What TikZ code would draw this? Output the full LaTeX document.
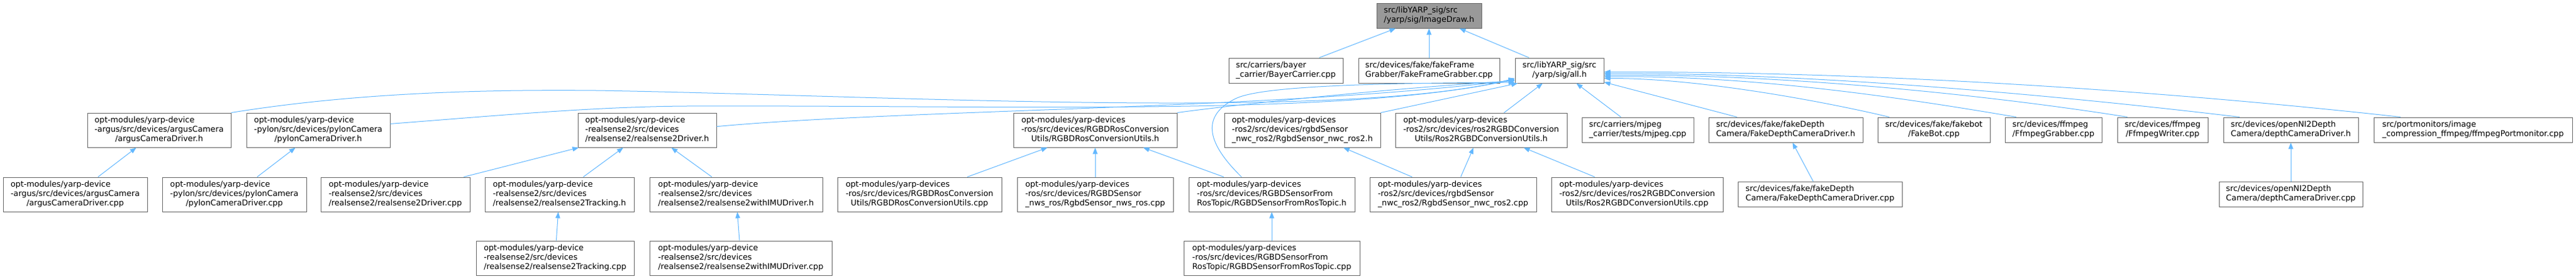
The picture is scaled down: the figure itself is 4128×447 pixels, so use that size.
\documentclass[tikz,border=0pt]{standalone}
\usepackage{fontspec}
\setmainfont{DejaVu Sans}
\usetikzlibrary{arrows.meta}
\definecolor{edgecol}{HTML}{63B8FF}
\definecolor{bordercol}{HTML}{666666}
\definecolor{rootcol}{HTML}{999999}
\newcommand\lbl[2]{\begin{tabular}{@{}l@{}}#1\\\multicolumn{1}{@{}c@{}}{#2}\end{tabular}}
\renewcommand\arraystretch{1}
\begin{document}
\begin{tikzpicture}[x=1pt,y=-1pt,
  box/.style={draw=bordercol, line width=1pt, fill=white, inner sep=0pt,
    font=\fontsize{12.8}{15}\selectfont},
  rootbox/.style={box, fill=rootcol},
  hthree/.style={minimum height=55pt},
  htwo/.style={minimum height=40pt},
  edge/.style={draw=edgecol, line width=1pt, -{Triangle[length=10pt,width=7.5pt]}}]
\fill[white] (0,0) rectangle (4128,447);
\useasboundingbox (0,0) rectangle (4128,447);
% top
\node[rootbox, htwo, minimum width=168pt] (T) at (2290,25) {\lbl{src/libYARP\_sig/src}{/yarp/sig/ImageDraw.h}};
% row 2
\node[box, htwo, minimum width=183pt] (B) at (2060.5,113) {\lbl{src/carriers/bayer}{\_carrier/BayerCarrier.cpp}};
\node[box, htwo, minimum width=226pt] (F) at (2290,113) {\lbl{src/devices/fake/fakeFrame}{Grabber/FakeFrameGrabber.cpp}};
\node[box, htwo, minimum width=142pt] (A) at (2499,113) {\lbl{src/libYARP\_sig/src}{/yarp/sig/all.h}};
% row 3
\node[box, hthree, minimum width=230pt] (argush) at (255,208.5) {\lbl{opt-modules/yarp-device\\-argus/src/devices/argusCamera}{/argusCameraDriver.h}};
\node[box, hthree, minimum width=230pt] (pylonh) at (510,208.5) {\lbl{opt-modules/yarp-device\\-pylon/src/devices/pylonCamera}{/pylonCameraDriver.h}};
\node[box, hthree, minimum width=222pt] (rs2h) at (1037,208.5) {\lbl{opt-modules/yarp-device\\-realsense2/src/devices}{/realsense2/realsense2Driver.h}};
\node[box, hthree, minimum width=262pt] (rgbdconvh) at (1755,208.5) {\lbl{opt-modules/yarp-devices\\-ros/src/devices/RGBDRosConversion}{Utils/RGBDRosConversionUtils.h}};
\node[box, hthree, minimum width=250pt] (nwch) at (2087,208.5) {\lbl{opt-modules/yarp-devices\\-ros2/src/devices/rgbdSensor}{\_nwc\_ros2/RgbdSensor\_nwc\_ros2.h}};
\node[box, hthree, minimum width=275pt] (ros2convh) at (2373.5,208.5) {\lbl{opt-modules/yarp-devices\\-ros2/src/devices/ros2RGBDConversion}{Utils/Ros2RGBDConversionUtils.h}};
\node[box, htwo, minimum width=179pt] (mjpeg) at (2624.5,208) {\lbl{src/carriers/mjpeg}{\_carrier/tests/mjpeg.cpp}};
\node[box, htwo, minimum width=247pt] (fakedepthh) at (2861.5,208) {\lbl{src/devices/fake/fakeDepth}{Camera/FakeDepthCameraDriver.h}};
\node[box, htwo, minimum width=180pt] (fakebot) at (3099,208) {\lbl{src/devices/fake/fakebot}{/FakeBot.cpp}};
\node[box, htwo, minimum width=155pt] (ffgrab) at (3290.5,208) {\lbl{src/devices/ffmpeg}{/FfmpegGrabber.cpp}};
\node[box, htwo, minimum width=145pt] (ffwrite) at (3465.5,208) {\lbl{src/devices/ffmpeg}{/FfmpegWriter.cpp}};
\node[box, htwo, minimum width=216pt] (depthh) at (3671,208) {\lbl{src/devices/openNI2Depth}{Camera/depthCameraDriver.h}};
\node[box, htwo, minimum width=318pt] (ffpm) at (3963,208) {\lbl{src/portmonitors/image}{\_compression\_ffmpeg/ffmpegPortmonitor.cpp}};
% row 4
\node[box, hthree, minimum width=231pt] (arguscpp) at (120.5,311.5) {\lbl{opt-modules/yarp-device\\-argus/src/devices/argusCamera}{/argusCameraDriver.cpp}};
\node[box, hthree, minimum width=231pt] (pyloncpp) at (375.5,311.5) {\lbl{opt-modules/yarp-device\\-pylon/src/devices/pylonCamera}{/pylonCameraDriver.cpp}};
\node[box, hthree, minimum width=239pt] (rs2cpp) at (633.5,311.5) {\lbl{opt-modules/yarp-device\\-realsense2/src/devices}{/realsense2/realsense2Driver.cpp}};
\node[box, hthree, minimum width=239pt] (trackh) at (896.5,311.5) {\lbl{opt-modules/yarp-device\\-realsense2/src/devices}{/realsense2/realsense2Tracking.h}};
\node[box, hthree, minimum width=277pt] (imuh) at (1179.5,311.5) {\lbl{opt-modules/yarp-device\\-realsense2/src/devices}{/realsense2/realsense2withIMUDriver.h}};
\node[box, hthree, minimum width=263pt] (rgbdconvcpp) at (1473.5,311.5) {\lbl{opt-modules/yarp-devices\\-ros/src/devices/RGBDRosConversion}{Utils/RGBDRosConversionUtils.cpp}};
\node[box, hthree, minimum width=250pt] (nwscpp) at (1755,311.5) {\lbl{opt-modules/yarp-devices\\-ros/src/devices/RGBDSensor}{\_nws\_ros/RgbdSensor\_nws\_ros.cpp}};
\node[box, hthree, minimum width=266pt] (fromh) at (2038,311.5) {\lbl{opt-modules/yarp-devices\\-ros/src/devices/RGBDSensorFrom}{RosTopic/RGBDSensorFromRosTopic.h}};
\node[box, hthree, minimum width=267pt] (nwccpp) at (2328.5,311.5) {\lbl{opt-modules/yarp-devices\\-ros2/src/devices/rgbdSensor}{\_nwc\_ros2/RgbdSensor\_nwc\_ros2.cpp}};
\node[box, hthree, minimum width=275pt] (ros2convcpp) at (2623.5,311.5) {\lbl{opt-modules/yarp-devices\\-ros2/src/devices/ros2RGBDConversion}{Utils/Ros2RGBDConversionUtils.cpp}};
\node[box, htwo, minimum width=263pt] (fakedepthcpp) at (2916.5,311) {\lbl{src/devices/fake/fakeDepth}{Camera/FakeDepthCameraDriver.cpp}};
\node[box, htwo, minimum width=230pt] (depthcpp) at (3671,311) {\lbl{src/devices/openNI2Depth}{Camera/depthCameraDriver.cpp}};
% row 5
\node[box, hthree, minimum width=253pt] (trackcpp) at (889.5,413.5) {\lbl{opt-modules/yarp-device\\-realsense2/src/devices}{/realsense2/realsense2Tracking.cpp}};
\node[box, hthree, minimum width=292pt] (imucpp) at (1187,413.5) {\lbl{opt-modules/yarp-device\\-realsense2/src/devices}{/realsense2/realsense2withIMUDriver.cpp}};
\node[box, hthree, minimum width=282pt] (fromcpp) at (2038,413.5) {\lbl{opt-modules/yarp-devices\\-ros/src/devices/RGBDSensorFrom}{RosTopic/RGBDSensorFromRosTopic.cpp}};
% edges to top
\draw[edge] (B) -- (T);
\draw[edge] (F) -- (T);
\draw[edge] (A) -- (T);
% edges into all.h (left side)
\draw[edge] (argush.north east) .. controls (560,150) and (760,143) .. (955,145) .. controls (1400,152) and (2150,195) .. (A.190);
\draw[edge] (pylonh.5) .. controls (800,185) and (950,171) .. (1100,170) .. controls (1600,168) and (2150,188) .. (A.191);
\draw[edge] (rs2h.3) .. controls (1450,175) and (2050,175) .. (A.192);
\draw[edge] (rgbdconvh.north east) .. controls (2000,165) and (2250,140) .. (A.193);
\draw[edge] (fromh.150) .. controls (1945,240) and (1915,190) .. (1980,158) .. controls (2020,138) and (2200,133) .. (A.195);
\draw[edge] (nwch.north east) -- (A.197);
\draw[edge] (ros2convh) -- (A);
\draw[edge] (mjpeg) -- (A);
\draw[edge] (fakedepthh) -- (A);
% edges into all.h (right side)
\draw[edge] (fakebot.164) .. controls (2920,162) and (2720,125) .. (A.350);
\draw[edge] (ffgrab.161) .. controls (3080,162) and (2820,120) .. (A.352);
\draw[edge] (ffwrite.160) .. controls (3250,162) and (2900,118) .. (A.354);
\draw[edge] (depthh.166) .. controls (3400,165) and (2950,116) .. (A.356);
\draw[edge] (ffpm.170) .. controls (3600,160) and (3100,114) .. (A.358);
% row 4 -> row 3
\draw[edge] (arguscpp) -- (argush);
\draw[edge] (pyloncpp) -- (pylonh);
\draw[edge] (rs2cpp) -- (rs2h);
\draw[edge] (trackh) -- (rs2h);
\draw[edge] (imuh) -- (rs2h);
\draw[edge] (rgbdconvcpp) -- (rgbdconvh);
\draw[edge] (nwscpp) -- (rgbdconvh);
\draw[edge] (fromh) -- (rgbdconvh);
\draw[edge] (nwccpp) -- (nwch);
\draw[edge] (nwccpp) -- (ros2convh);
\draw[edge] (ros2convcpp) -- (ros2convh);
\draw[edge] (fakedepthcpp) -- (fakedepthh);
\draw[edge] (depthcpp) -- (depthh);
% row 5 -> row 4
\draw[edge] (trackcpp) -- (trackh);
\draw[edge] (imucpp) -- (imuh);
\draw[edge] (fromcpp) -- (fromh);
\end{tikzpicture}
\end{document}
